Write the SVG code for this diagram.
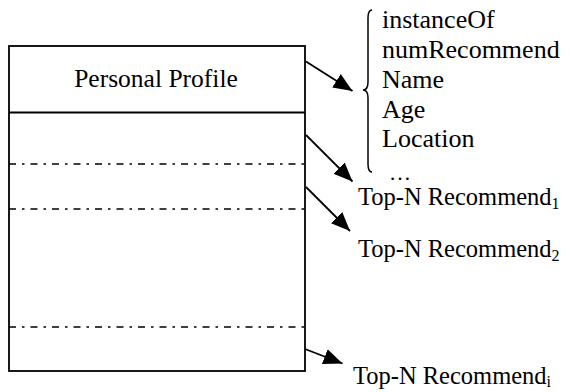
<svg xmlns="http://www.w3.org/2000/svg" width="570" height="392" viewBox="0 0 570 392">
  <style>
    .box { fill: #fff; stroke: #000; stroke-width: 1.8; }
    .sep { stroke: #000; stroke-width: 1.8; fill: none; }
    .brace { stroke: #000; stroke-width: 1.5; fill: none; }
    .dash { stroke: #000; stroke-width: 1.7; fill: none; stroke-dasharray: 7 6 2.5 6; }
    .conn { stroke: #000; stroke-width: 1.8; fill: none; marker-end: url(#arrow); }
    .t { font-family: "Liberation Serif", "Times New Roman", serif; fill: #000; }
  </style>
  <defs>
    <marker id="arrow" markerUnits="userSpaceOnUse" markerWidth="20" markerHeight="18" viewBox="0 0 20 18" refX="19" refY="9" orient="auto">
      <polygon points="0,1 19,9 0,17" fill="#000"/>
    </marker>
  </defs>

  <!-- profile table -->
  <g id="profile">
    <rect class="box" x="9" y="46" width="296" height="325"/>
    <line class="sep" x1="9" y1="112.5" x2="305" y2="112.5"/>
    <text class="t" x="156" y="87" font-size="25.5" text-anchor="middle">Personal Profile</text>
  </g>

  <g id="rows">
    <line class="dash" x1="9" y1="164" x2="305" y2="164"/>
    <line class="dash" x1="9" y1="209" x2="305" y2="209"/>
    <line class="dash" x1="9" y1="327" x2="305" y2="327"/>
  </g>

  <!-- attribute list with brace -->
  <g id="attributes">
    <path class="brace" d="M372,10 Q368,10 368,18 L368,82 Q368,90 363,90 Q368,90 368,98 L368,164 Q368,172 372,172"/>
    <text class="t" x="382" font-size="26">
      <tspan x="382" y="27.5">instanceOf</tspan>
      <tspan x="382" y="57.5">numRecommend</tspan>
      <tspan x="382" y="87.5">Name</tspan>
      <tspan x="382" y="117.5">Age</tspan>
      <tspan x="382" y="147">Location</tspan>
    </text>
    <text class="t" x="389" y="180" font-size="22">…</text>
  </g>

  <g id="recommend1">
    <text class="t" x="358" y="205" font-size="24.5">Top-N Recommend<tspan font-size="16" dy="4">1</tspan></text>
  </g>
  <g id="recommend2">
    <text class="t" x="358" y="257" font-size="24.5">Top-N Recommend<tspan font-size="16" dy="4">2</tspan></text>
  </g>
  <g id="recommendi">
    <text class="t" x="353" y="384" font-size="24.5">Top-N Recommend<tspan font-size="16" dy="3">i</tspan></text>
  </g>

  <!-- connectors -->
  <g id="connectors">
    <line class="conn" x1="306" y1="61.5" x2="352.5" y2="91"/>
    <line class="conn" x1="306" y1="135" x2="352.5" y2="181.5"/>
    <line class="conn" x1="306" y1="187" x2="350" y2="231"/>
    <line class="conn" x1="305" y1="349" x2="342.5" y2="363.5"/>
  </g>
</svg>
